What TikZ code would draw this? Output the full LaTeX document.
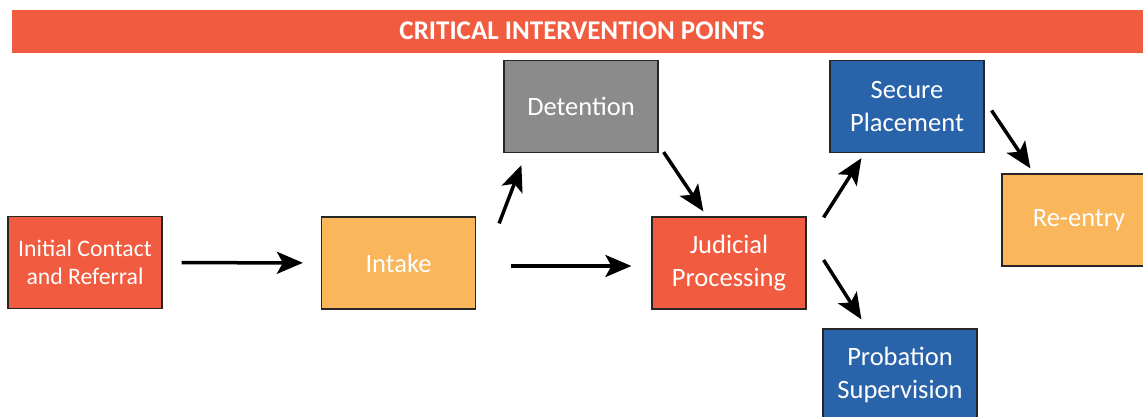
\documentclass[tikz,border=0pt]{standalone}
\usepackage{fontspec}
\setmainfont{Carlito}
\usetikzlibrary{arrows.meta}
\definecolor{cipred}{HTML}{F15B40}
\definecolor{cipyellow}{HTML}{FAB65A}
\definecolor{cipgray}{HTML}{8A8B8A}
\definecolor{cipblue}{HTML}{2963AA}
\tikzset{
  stage/.style={draw=black!85, line width=1.2pt, text=white, align=center,
    minimum width=154pt, minimum height=92pt, inner sep=0pt,
    font=\fontsize{26.5}{33}\selectfont},
  flow/.style={line width=3.5pt, -{Stealth[length=26pt,width=22pt,inset=6pt]}}
}
\begin{document}
\begin{tikzpicture}[x=1pt,y=-1pt]
      \clip (0,0) rectangle (1143,416);
      \fill[white] (0,0) rectangle (1143,416);
      \fill[cipred] (12,10) rectangle (1152,53);
      \node[text=white, font=\fontsize{27}{30}\bfseries] (title) at (582,31) {CRITICAL INTERVENTION POINTS};
      \draw
        (85,262.5) node[stage, fill=cipred, font=\fontsize{23.7}{28}\selectfont] (init){Initial Contact\\and Referral}
        (398.5,263) node[stage, fill=cipyellow] (intake){Intake}
        (581,106.5) node[stage, fill=cipgray] (detention){Detention}
        (729,263) node[stage, fill=cipred] (judicial){Judicial\\Processing}
        (907,106.5) node[stage, fill=cipblue] (secure){Secure\\Placement}
        (1079,220) node[stage, fill=cipyellow] (reentry){Re-entry}
        (900,375) node[stage, fill=cipblue] (probation){Probation\\Supervision};
      \begin{scope}[flow]
        \draw[shorten <=19pt, shorten >=18pt] (init) to (intake);
        \draw ([shift={(35,3)}]intake.east) to ([shift={(-20,3)}]judicial.west);
        \draw ([shift={(23,7)}]intake.north east) to ([shift={(18,12)}]detention.south west);
        \draw ([shift={(5,-1)}]detention.south east) to ([shift={(52,-5)}]judicial.north west);
        \draw ([shift={(17,1)}]judicial.north east) to ([shift={(32,5)}]secure.south west);
        \draw ([shift={(7,4)}]secure.east) to ([shift={(29,-5)}]reentry.north west);
        \draw ([shift={(17,-3)}]judicial.east) to ([shift={(39,-9)}]probation.north west);
      \end{scope}
    \end{tikzpicture}
\end{document}
